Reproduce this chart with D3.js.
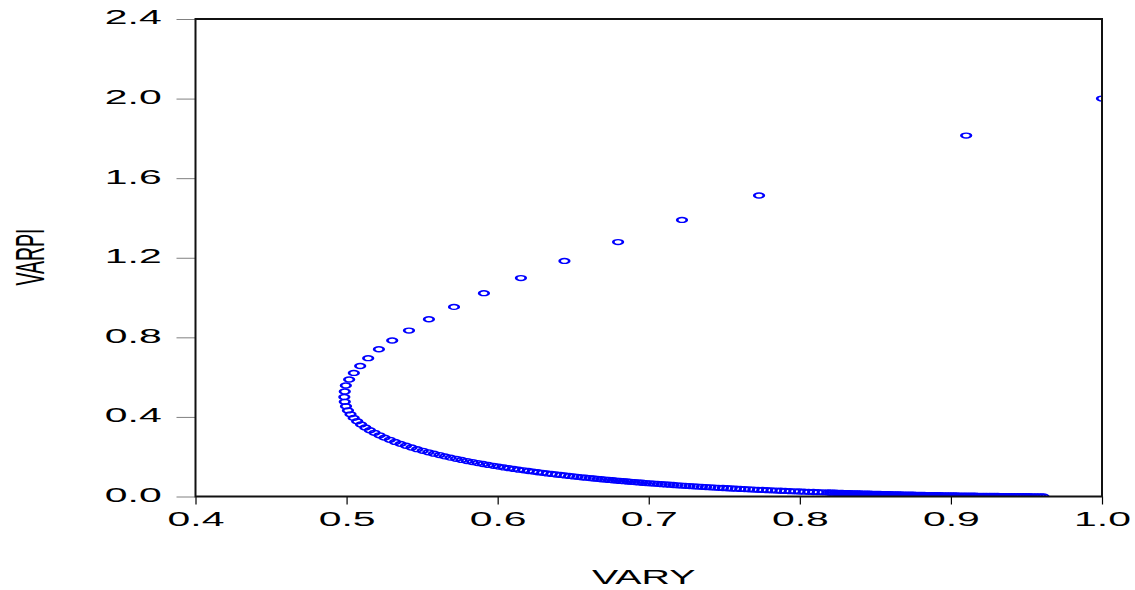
<!DOCTYPE html>
<html lang="en">
    <head>
        <meta charset="utf-8">
        <title>VARPI vs VARY</title>
        <script src="https://d3js.org/d3.v7.min.js"></script>
        <style type="text/css">
                body {
                    margin: 0;
                    background: white;
                }
                text {
                    font-family: "Liberation Sans", Arial, sans-serif;
                    font-size: 19.5px;
                    fill: black;
                }
                .axis path.domain {
                    display: none;
                }
         </style>
    </head>
    <body>
        <script type="text/javascript">
        var w = 1135;
        var h = 590;

        // tick labels
        var xTicks = [0.4, 0.5, 0.6, 0.7, 0.8, 0.9, 1.0];
        var yTicks = [0.0, 0.4, 0.8, 1.2, 1.6, 2.0, 2.4];

        // upper branch (sparse points)
        var varyUpper = [1.000, 0.9101, 0.7730, 0.7220, 0.6797, 0.6442, 0.6154, 0.5909, 0.5711, 0.5545,
            0.5413, 0.5302, 0.5214, 0.5143, 0.5090, 0.5048, 0.5017, 0.4995, 0.4988, 0.4985];
        var varpiUpper = [2.000, 1.814, 1.513, 1.390, 1.279, 1.184, 1.098, 1.022, 0.953, 0.891,
            0.834, 0.784, 0.740, 0.695, 0.656, 0.621, 0.588, 0.558, 0.528, 0.500];

        // lower branch (dense band along the bottom)
        var varyLower = [0.4988, 0.4996, 0.5009, 0.5026, 0.5047, 0.5070, 0.5096, 0.5124, 0.5154, 0.5185,
            0.5218, 0.5251, 0.5286, 0.5321, 0.5357, 0.5393, 0.5430, 0.5467, 0.5504, 0.5541,
            0.5578, 0.5615, 0.5651, 0.5688, 0.5725, 0.5761, 0.5797, 0.5833, 0.5868, 0.5903,
            0.5938, 0.5973, 0.6007, 0.6041, 0.6074, 0.6107, 0.6139, 0.6172, 0.6204, 0.6235,
            0.6266, 0.6297, 0.6327, 0.6357, 0.6386, 0.6416, 0.6444, 0.6473, 0.6501, 0.6528,
            0.6555, 0.6582, 0.6609, 0.6635, 0.6661, 0.6686, 0.6712, 0.6736, 0.6761, 0.6785,
            0.6809, 0.6833, 0.6858, 0.6882, 0.6907, 0.6932, 0.6957, 0.6982, 0.7007, 0.7033,
            0.7059, 0.7085, 0.7111, 0.7137, 0.7163, 0.7189, 0.7216, 0.7243, 0.7270, 0.7297,
            0.7324, 0.7352, 0.7379, 0.7407, 0.7435, 0.7463, 0.7491, 0.7520, 0.7548, 0.7577,
            0.7606, 0.7635, 0.7664, 0.7693, 0.7723, 0.7753, 0.7783, 0.7813, 0.7843, 0.7873,
            0.7903, 0.7934, 0.7965, 0.7996, 0.8027, 0.8058, 0.8090, 0.8121, 0.8153,
            0.8185, 0.8201, 0.8217, 0.8233, 0.8249, 0.8266, 0.8282, 0.8298, 0.8314, 0.8331,
            0.8347, 0.8363, 0.8380, 0.8396, 0.8413, 0.8430, 0.8446, 0.8463, 0.8479, 0.8496,
            0.8513, 0.8530, 0.8547, 0.8564, 0.8581, 0.8598, 0.8615, 0.8632, 0.8649, 0.8666,
            0.8683, 0.8700, 0.8717, 0.8735, 0.8752, 0.8770, 0.8787, 0.8804, 0.8822, 0.8839,
            0.8857, 0.8875, 0.8892, 0.8910, 0.8928, 0.8946, 0.8963, 0.8981, 0.8999, 0.9017,
            0.9035, 0.9053, 0.9071, 0.9089, 0.9107, 0.9126, 0.9144, 0.9162, 0.9180, 0.9199,
            0.9217, 0.9235, 0.9254, 0.9272, 0.9291, 0.9310, 0.9328, 0.9347, 0.9365, 0.9384,
            0.9403, 0.9422, 0.9441, 0.9460, 0.9479, 0.9498, 0.9517, 0.9536, 0.9555, 0.9574,
            0.9593, 0.9612];
        var varpiLower = [0.4759, 0.4535, 0.4327, 0.4132, 0.3951, 0.3781, 0.3622, 0.3472, 0.3332, 0.3200,
            0.3076, 0.2959, 0.2848, 0.2743, 0.2645, 0.2551, 0.2462, 0.2378, 0.2298, 0.2222,
            0.2150, 0.2081, 0.2016, 0.1953, 0.1893, 0.1837, 0.1782, 0.1730, 0.1680, 0.1633,
            0.1587, 0.1543, 0.1501, 0.1461, 0.1422, 0.1385, 0.1349, 0.1315, 0.1282, 0.1250,
            0.1219, 0.1190, 0.1161, 0.1134, 0.1107, 0.1082, 0.1057, 0.1033, 0.1010, 0.0988,
            0.0966, 0.0945, 0.0925, 0.0905, 0.0886, 0.0868, 0.0850, 0.0833, 0.0816, 0.0800,
            0.0784, 0.0768, 0.0753, 0.0737, 0.0722, 0.0707, 0.0692, 0.0677, 0.0662, 0.0648,
            0.0634, 0.0620, 0.0606, 0.0592, 0.0578, 0.0564, 0.0551, 0.0538, 0.0525, 0.0512,
            0.0499, 0.0487, 0.0474, 0.0462, 0.0450, 0.0438, 0.0426, 0.0415, 0.0403, 0.0392,
            0.0381, 0.0370, 0.0359, 0.0348, 0.0338, 0.0328, 0.0318, 0.0308, 0.0298, 0.0288,
            0.0278, 0.0269, 0.0260, 0.0251, 0.0242, 0.0233, 0.0225, 0.0216, 0.0208,
            0.0200, 0.0196, 0.0192, 0.0188, 0.0184, 0.0181, 0.0177, 0.0173, 0.0169, 0.0166,
            0.0162, 0.0158, 0.0155, 0.0151, 0.0148, 0.0145, 0.0141, 0.0138, 0.0134, 0.0131,
            0.0128, 0.0125, 0.0122, 0.0119, 0.0116, 0.0113, 0.0110, 0.0107, 0.0104, 0.0101,
            0.0098, 0.0095, 0.0092, 0.0090, 0.0087, 0.0085, 0.0082, 0.0079, 0.0077, 0.0074,
            0.0072, 0.0070, 0.0067, 0.0065, 0.0063, 0.0061, 0.0058, 0.0056, 0.0054, 0.0052,
            0.0050, 0.0048, 0.0046, 0.0044, 0.0042, 0.0041, 0.0039, 0.0037, 0.0035, 0.0034,
            0.0032, 0.0030, 0.0029, 0.0027, 0.0026, 0.0025, 0.0023, 0.0022, 0.0020, 0.0019,
            0.0018, 0.0017, 0.0016, 0.0015, 0.0014, 0.0013, 0.0012, 0.0011, 0.0010, 0.0009,
            0.0008, 0.0007];

        var stretch = 2.1;  // the original picture is squashed, text runs wide

        var plotLeft = 195.5, plotRight = 1102, plotTop = 19, plotBottom = 496.5;

        var x = d3.scaleLinear().domain([0.4, 1.0]).range([plotLeft, plotRight]);
        var y = d3.scaleLinear().domain([0, 2.4]).range([plotBottom, plotTop]);

        var svg = d3.select("body")
                .append("svg")
                .attr("width", w)
                .attr("height", h);

        svg.append("clipPath")
                .attr("id", "plotclip")
                .append("rect")
                .attr("x", plotLeft)
                .attr("y", plotTop)
                .attr("width", plotRight - plotLeft)
                .attr("height", plotBottom - plotTop);

        // points: circles stretched sideways like the original
        var points = d3.zip(varyUpper, varpiUpper).concat(d3.zip(varyLower, varpiLower));

        svg.append("g")
                .attr("clip-path", "url(#plotclip)")
                .selectAll("g")
                .data(points)
                .enter()
                .append("g")
                .attr("transform", function(d) {
                    return "translate(" + x(d[0]) + "," + y(d[1]) + ") scale(1.95,1)";
                })
                .append("circle")
                .attr("r", 2.45)
                .attr("fill", "none")
                .attr("stroke", "#0000ff")
                .attr("stroke-width", 1.4);

        // x axis
        var xAxis = svg.append("g")
                .attr("class", "axis")
                .attr("transform", "translate(0," + plotBottom + ")")
                .call(d3.axisBottom(x).tickValues(xTicks).tickSize(8).tickSizeOuter(0)
                        .tickPadding(8).tickFormat(d3.format(".1f")));
        xAxis.selectAll(".tick line").attr("stroke", "#000").attr("stroke-width", 1.2);
        xAxis.selectAll(".tick text")
                .attr("transform", "scale(" + stretch + ",1)")
                .style("font-size", "19.5px")
                .style("font-family", "'Liberation Sans', Arial, sans-serif");

        // y axis
        var yAxis = svg.append("g")
                .attr("class", "axis")
                .attr("transform", "translate(" + plotLeft + ",0)")
                .call(d3.axisLeft(y).tickValues(yTicks).tickSize(19).tickSizeOuter(0)
                        .tickFormat(d3.format(".1f")));
        yAxis.selectAll(".tick line").attr("stroke", "#808080").attr("stroke-width", 1);
        yAxis.selectAll(".tick text")
                .attr("x", 0)
                .attr("dy", "0.25em")
                .attr("transform", "translate(-33.8,0) scale(" + stretch + ",1)")
                .style("font-size", "19.5px")
                .style("font-family", "'Liberation Sans', Arial, sans-serif");

        // frame
        svg.append("rect")
                .attr("x", plotLeft)
                .attr("y", plotTop)
                .attr("width", plotRight - plotLeft)
                .attr("height", plotBottom - plotTop)
                .attr("fill", "none")
                .attr("stroke", "#111")
                .attr("stroke-width", 2);

        // axis titles
        svg.append("text")
                .attr("transform", "translate(643.7,584.3) scale(2.02,1)")
                .attr("text-anchor", "middle")
                .text("VARY");

        svg.append("text")
                .attr("transform", "translate(43.5,257) scale(" + stretch + ",1) rotate(-90)")
                .attr("text-anchor", "middle")
                .text("VARPI");
        </script>
    </body>
</html>
